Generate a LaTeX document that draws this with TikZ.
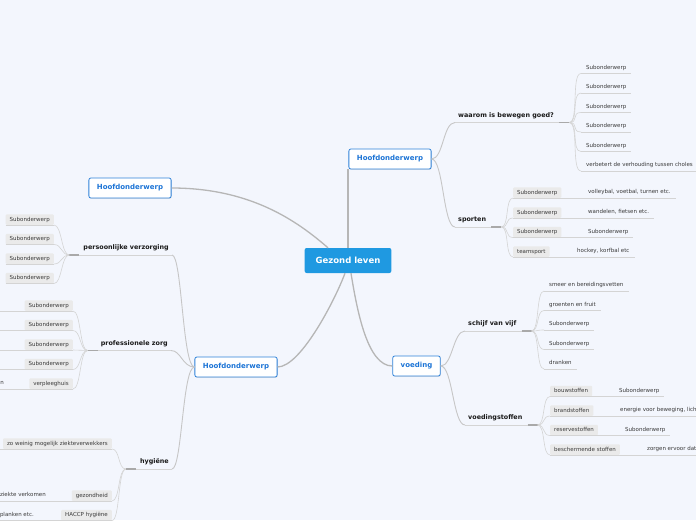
\documentclass[tikz,border=0pt]{standalone}
\usepackage{fontspec}
\setmainfont{DejaVu Sans}
\usetikzlibrary{shadows}

\definecolor{bgcol}{HTML}{F3F6FD}
\definecolor{centerblue}{HTML}{1F99E1}
\definecolor{hoofdblue}{HTML}{2E82D9}
\definecolor{hoofdtext}{HTML}{1C74D6}
\definecolor{trunkline}{HTML}{B6B6B6}
\definecolor{limbline}{HTML}{C6C6C6}
\definecolor{twigline}{HTML}{D4D4D4}
\definecolor{knobcol}{HTML}{A9A9A9}
\definecolor{tagfill}{HTML}{EAEAEA}
\definecolor{subtext}{HTML}{3A3A3A}

\tikzset{
  uline/.style={draw=twigline, line width=0.6pt},
  centre/.style={fill=centerblue, text=white, rounded corners=2pt, font=\fontsize{8.5}{10}\selectfont\bfseries, inner xsep=11pt, minimum height=25pt},
  hoofd/.style={draw=hoofdblue, line width=0.8pt, fill=white, rounded corners=2pt, text=hoofdtext, font=\fontsize{7}{8}\selectfont\bfseries, inner xsep=8pt, minimum height=20pt, drop shadow={shadow xshift=0.6pt, shadow yshift=-0.8pt, opacity=0.2}},
  branch/.style={font=\fontsize{6.4}{7}\selectfont\bfseries, text=black!90, inner xsep=3pt, inner ysep=3.5pt, text height=5pt, text depth=1.5pt},
  sub/.style={font=\fontsize{5.5}{6}\selectfont, text=subtext, anchor=south west, inner xsep=5pt, inner ysep=2.8pt, text height=4.2pt, text depth=1.3pt, append after command={(\tikzlastnode.south west) edge[uline] (\tikzlastnode.south east)}},
  tag/.style={font=\fontsize{5.5}{6}\selectfont, text=subtext, fill=tagfill, rounded corners=1pt, anchor=south west, inner xsep=4pt, inner ysep=2.5pt, text height=4.2pt, text depth=1.3pt, append after command={(\tikzlastnode.south west) edge[uline] (\tikzlastnode.south east)}},
  trunk/.style={draw=trunkline, line width=1.3pt},
  limb/.style={draw=limbline, line width=0.9pt},
  twig/.style={draw=twigline, line width=0.6pt},
  knob/.style={draw=knobcol, line width=1.2pt}
}

\begin{document}
\begin{tikzpicture}[x=1pt, y=-1pt]
\useasboundingbox (0,0) rectangle (696,520);
\node[fill=bgcol, inner sep=0pt, minimum width=696pt, minimum height=520pt, anchor=north west] (bg) at (0,0) {};
\clip (bg.north west) rectangle (bg.south east);

% centre and main topics
\node[centre] (gl) at (348,260.5) {Gezond leven};
\node[hoofd] (hr) at (390,159) {Hoofdonderwerp};
\node[hoofd] (hl) at (130,188) {Hoofdonderwerp};
\node[hoofd] (hb) at (236,367) {Hoofdonderwerp};
\node[hoofd] (vd) at (416.5,366) {voeding};
\draw[trunk] (gl.north) -- (gl.north |- hr.south);
\draw[trunk] ([xshift=-20pt]gl.north) .. controls +(-30,-26) and +(80,0) .. (hl.east);
\draw[trunk] ([xshift=-3pt]gl.south) .. controls +(-10,27) and +(23,0) .. (hb.east);
\draw[trunk] ([xshift=3pt]gl.south) .. controls +(6,37) and +(-25,0) .. (vd.west);

% waarom is bewegen goed?
\node[branch, anchor=south west] (wb) at (455,122.5) {waarom is bewegen goed?};
\coordinate (wb-r) at ([xshift=12pt]wb.south east);
\draw[uline] (wb.south west) -- (wb-r);
\draw[knob] ([xshift=-10pt]wb-r) -- (wb-r);
\node[sub] (wb1) at (581,73.5) {Subonderwerp};
\node[sub] (wb2) at (581,93) {Subonderwerp};
\node[sub] (wb3) at (581,112.5) {Subonderwerp};
\node[sub] (wb4) at (581,132) {Subonderwerp};
\node[sub] (wb5) at (581,151.5) {Subonderwerp};
\node[sub] (wb6) at (581,171) {verbetert de verhouding tussen choles};
\draw[twig] (wb-r) .. controls +(10,0) and +(-10,0) .. (wb1.south west);
\draw[twig] (wb-r) .. controls +(10,0) and +(-10,0) .. (wb2.south west);
\draw[twig] (wb-r) .. controls +(10,0) and +(-10,0) .. (wb3.south west);
\draw[twig] (wb-r) .. controls +(10,0) and +(-10,0) .. (wb4.south west);
\draw[twig] (wb-r) .. controls +(10,0) and +(-10,0) .. (wb5.south west);
\draw[twig] (wb-r) .. controls +(10,0) and +(-10,0) .. (wb6.south west);
\draw[twig] (wb6.south east) -- (wb6.south east -| bg.east);

% sporten
\node[branch, anchor=south west] (sp) at (455,227) {sporten};
\coordinate (sp-r) at ([xshift=12pt]sp.south east);
\draw[uline] (sp.south west) -- (sp-r);
\draw[knob] ([xshift=-10pt]sp-r) -- (sp-r);
\node[tag] (sp1) at (513,198) {Subonderwerp};
\node[sub] (sp1a) at (583,198) {volleybal, voetbal, turnen etc.};
\node[tag] (sp2) at (513,218) {Subonderwerp};
\node[sub] (sp2a) at (583,218) {wandelen, fietsen etc.};
\node[tag] (sp3) at (513,237.5) {Subonderwerp};
\node[sub] (sp3a) at (583,237.5) {Subonderwerp};
\node[tag] (sp4) at (513,257) {teamsport};
\node[sub] (sp4a) at (572,257) {hockey, korfbal etc};
\draw[twig] (sp-r) .. controls +(8,0) and +(-8,0) .. (sp1.south west);
\draw[twig] (sp-r) .. controls +(8,0) and +(-8,0) .. (sp2.south west);
\draw[twig] (sp-r) .. controls +(8,0) and +(-8,0) .. (sp3.south west);
\draw[twig] (sp-r) .. controls +(8,0) and +(-8,0) .. (sp4.south west);
\draw[twig] (sp1.south east) -- (sp1a.south west);
\draw[twig] (sp2.south east) -- (sp2a.south west);
\draw[twig] (sp3.south east) -- (sp3a.south west);
\draw[twig] (sp4.south east) -- (sp4a.south west);

% schijf van vijf
\node[branch, anchor=south west] (sv) at (465,331) {schijf van vijf};
\coordinate (sv-r) at ([xshift=12pt]sv.south east);
\draw[uline] (sv.south west) -- (sv-r);
\draw[knob] ([xshift=-10pt]sv-r) -- (sv-r);
\node[sub] (sv1) at (544,291) {smeer en bereidingsvetten};
\node[sub] (sv2) at (544,310.5) {groenten en fruit};
\node[sub] (sv3) at (544,330) {Subonderwerp};
\node[sub] (sv4) at (544,349.5) {Subonderwerp};
\node[sub] (sv5) at (544,369) {dranken};
\draw[twig] (sv-r) .. controls +(8,0) and +(-8,0) .. (sv1.south west);
\draw[twig] (sv-r) .. controls +(8,0) and +(-8,0) .. (sv2.south west);
\draw[twig] (sv-r) .. controls +(8,0) and +(-8,0) .. (sv3.south west);
\draw[twig] (sv-r) .. controls +(8,0) and +(-8,0) .. (sv4.south west);
\draw[twig] (sv-r) .. controls +(8,0) and +(-8,0) .. (sv5.south west);

% voedingstoffen
\node[branch, anchor=south west] (vs) at (465,425) {voedingstoffen};
\coordinate (vs-r) at ([xshift=12pt]vs.south east);
\draw[uline] (vs.south west) -- (vs-r);
\draw[knob] ([xshift=-10pt]vs-r) -- (vs-r);
\node[tag] (vs1) at (550,396.5) {bouwstoffen};
\node[sub] (vs1a) at (614,396.5) {Subonderwerp};
\node[tag] (vs2) at (550,416) {brandstoffen};
\node[sub] (vs2a) at (615,416) {energie voor beweging, lich};
\node[tag] (vs3) at (550,435.5) {reservestoffen};
\node[sub] (vs3a) at (620,435.5) {Subonderwerp};
\node[tag] (vs4) at (550,455) {beschermende stoffen};
\node[sub] (vs4a) at (642,455) {zorgen ervoor dat};
\draw[twig] (vs-r) .. controls +(8,0) and +(-8,0) .. (vs1.south west);
\draw[twig] (vs-r) .. controls +(8,0) and +(-8,0) .. (vs2.south west);
\draw[twig] (vs-r) .. controls +(8,0) and +(-8,0) .. (vs3.south west);
\draw[twig] (vs-r) .. controls +(8,0) and +(-8,0) .. (vs4.south west);
\draw[twig] (vs1.south east) -- (vs1a.south west);
\draw[twig] (vs2.south east) -- (vs2a.south west);
\draw[twig] (vs3.south east) -- (vs3a.south west);
\draw[twig] (vs4.south east) -- (vs4a.south west);

% persoonlijke verzorging
\node[branch, anchor=south east] (pv) at (172,255) {persoonlijke verzorging};
\coordinate (pv-l) at ([xshift=-11pt]pv.south west);
\draw[uline] (pv-l) -- (pv.south east);
\draw[knob] (pv-l) -- ([xshift=10pt]pv-l);
\node[tag, anchor=south east] (pv1) at (54,225) {Subonderwerp};
\node[tag, anchor=south east] (pv2) at (54,244.5) {Subonderwerp};
\node[tag, anchor=south east] (pv3) at (54,264) {Subonderwerp};
\node[tag, anchor=south east] (pv4) at (54,283.5) {Subonderwerp};
\draw[twig] (pv-l) .. controls +(-8,0) and +(8,0) .. (pv1.south east);
\draw[twig] (pv-l) .. controls +(-8,0) and +(8,0) .. (pv2.south east);
\draw[twig] (pv-l) .. controls +(-8,0) and +(8,0) .. (pv3.south east);
\draw[twig] (pv-l) .. controls +(-8,0) and +(8,0) .. (pv4.south east);

% professionele zorg
\node[branch, anchor=south east] (pz) at (171,350.5) {professionele zorg};
\coordinate (pz-l) at ([xshift=-10pt]pz.south west);
\draw[uline] (pz-l) -- (pz.south east);
\draw[knob] (pz-l) -- ([xshift=10pt]pz-l);
\node[tag, anchor=south east] (pz1) at (73,311) {Subonderwerp};
\node[tag, anchor=south east] (pz2) at (73,330.5) {Subonderwerp};
\node[tag, anchor=south east] (pz3) at (73,350) {Subonderwerp};
\node[tag, anchor=south east] (pz4) at (73,369.5) {Subonderwerp};
\node[tag, anchor=south east] (pz5) at (73,389) {verpleeghuis};
\node[sub, anchor=south east] (pz5a) at (9,389) {n};
\draw[twig] (pz-l) .. controls +(-8,0) and +(8,0) .. (pz1.south east);
\draw[twig] (pz-l) .. controls +(-8,0) and +(8,0) .. (pz2.south east);
\draw[twig] (pz-l) .. controls +(-8,0) and +(8,0) .. (pz3.south east);
\draw[twig] (pz-l) .. controls +(-8,0) and +(8,0) .. (pz4.south east);
\draw[twig] (pz-l) .. controls +(-8,0) and +(8,0) .. (pz5.south east);
\draw[twig] (pz1.south west) -- (pz1.south west -| bg.west);
\draw[twig] (pz2.south west) -- (pz2.south west -| bg.west);
\draw[twig] (pz3.south west) -- (pz3.south west -| bg.west);
\draw[twig] (pz4.south west) -- (pz4.south west -| bg.west);
\draw[twig] (pz5a.south east) -- (pz5.south west);

% hygiene
\node[branch, anchor=south east] (hy) at (172,469) {hygiëne};
\coordinate (hy-l) at ([xshift=-11pt]hy.south west);
\draw[uline] (hy-l) -- (hy.south east);
\draw[knob] (hy-l) -- ([xshift=10pt]hy-l);
\node[tag, anchor=south east] (hy1) at (112,449) {zo weinig mogelijk ziekteverwekkers};
\node[tag, anchor=south east] (hy2) at (112,501) {gezondheid};
\node[sub, anchor=south east] (hy2a) at (51,501) {ziekte verkomen};
\node[tag, anchor=south east] (hy3) at (112,520.5) {HACCP hygiëne};
\node[sub, anchor=south east] (hy3a) at (39,520.5) {planken etc.};
\draw[twig] (hy-l) .. controls +(-8,0) and +(8,0) .. (hy1.south east);
\draw[twig] (hy-l) .. controls +(-8,0) and +(8,0) .. (hy2.south east);
\draw[twig] (hy-l) .. controls +(-8,0) and +(8,0) .. (hy3.south east);
\draw[twig] (hy1.south west) -- (hy1.south west -| bg.west);
\draw[twig] (hy2a.south east) -- (hy2.south west);
\draw[twig] (hy3a.south east) -- (hy3.south west);

% main topics to branches
\draw[limb] (hr.east) .. controls +(12,0) and +(-12,0) .. (wb.south west);
\draw[limb] (hr.east) .. controls +(12,0) and +(-12,0) .. (sp.south west);
\draw[limb] (vd.east) .. controls +(12,0) and +(-12,0) .. (sv.south west);
\draw[limb] (vd.east) .. controls +(12,0) and +(-12,0) .. (vs.south west);
\draw[limb] (hb.west) .. controls +(-12,0) and +(10,0) .. (pv.south east);
\draw[limb] (hb.west) .. controls +(-12,0) and +(10,0) .. (pz.south east);
\draw[limb] (hb.west) .. controls +(-12,0) and +(10,0) .. (hy.south east);
\end{tikzpicture}
\end{document}
